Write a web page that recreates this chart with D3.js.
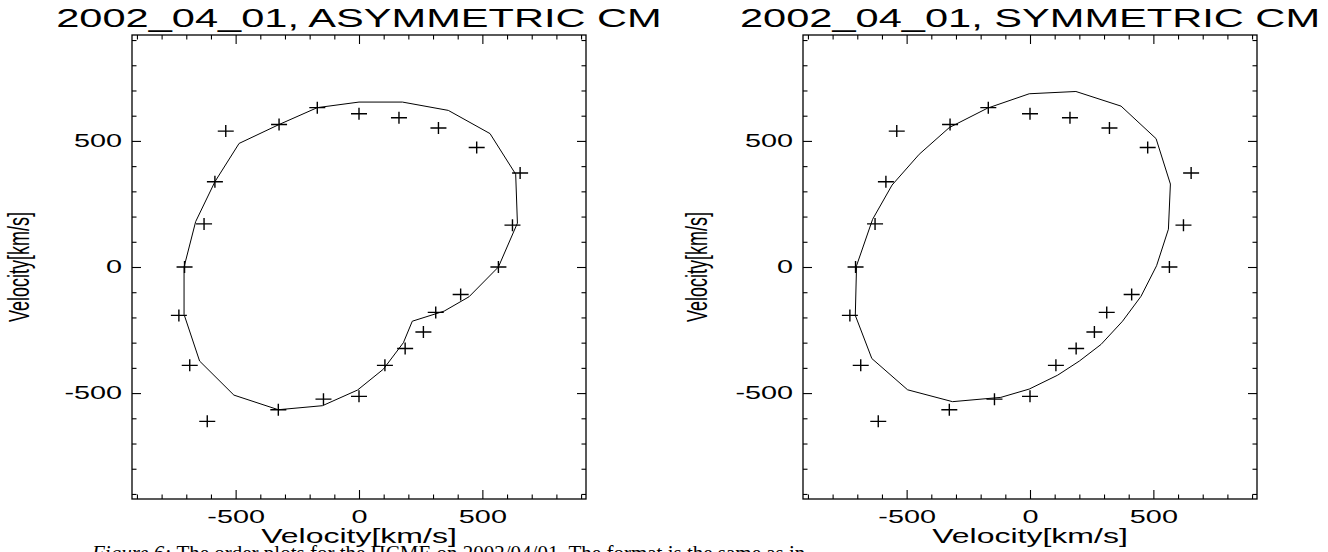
<!DOCTYPE html>
<html>
<head>
<meta charset="utf-8">
<script src="https://cdn.jsdelivr.net/npm/d3@7"></script>
<style>
  body { margin: 0; background: #fff; }
  svg { display: block; }
</style>
</head>
<body>
<svg width="1328" height="552"></svg>
<script>
var svg = d3.select("svg");

// observed points (same in both panels)
var obsVx = [0, 162, 322, 477, 653, 622, 565, 412, 311, 261, 187, 105, 0, -144, -327, -615, -686, -730, -707, -628, -584, -540, -324, -169];
var obsVy = [608, 592, 551, 474, 373, 166, 0, -109, -180, -258, -323, -390, -513, -524, -566, -612, -390, -192, 0, 171, 338, 539, 565, 632];

// fitted curve, asymmetric cone model
var asymVx = [0, 176, 362, 531, 635, 642, 565, 446, 345, 216, 180, 99, -6, -148, -327, -507, -646, -709, -709, -662, -584, -486, -324, -169];
var asymVy = [654, 654, 621, 529, 368, 174, 0, -118, -175, -215, -300, -405, -488, -550, -566, -508, -373, -188, 0, 180, 338, 490, 565, 632];

// fitted curve, symmetric cone model
var symVx = [-3, 186, 369, 511, 569, 561, 513, 450, 375, 288, 200, 112, -3, -118, -314, -496, -641, -708, -703, -638, -559, -449, -327, -172];
var symVy = [687, 696, 638, 509, 329, 150, 5, -116, -215, -307, -373, -429, -484, -517, -534, -487, -363, -192, 5, 189, 325, 447, 553, 630];

var panelTitles = ["2002_04_01, ASYMMETRIC CM", "2002_04_01, SYMMETRIC CM"];
var majorTicks = [-500, 0, 500];
var minorTicks = [-900, -800, -700, -600, -400, -300, -200, -100, 100, 200, 300, 400, 600, 700, 800, 900];
var axisRange = [-920, 920];
var axisTitle = "Velocity[km/s]";
var caption = "The order plots for the HCME on 2002/04/01. The format is the same as in";

var plotTop = 35;
var plotH = 464;
var plotW = 454;
var panelLeft = [132, 803];
var stretch = 1.6; // the figure is stretched sideways

var font = "'Liberation Sans', Arial, Helvetica, sans-serif";
var plainNum = function(d) { return String(d); };

drawPanel = function(k, curveX, curveY)
{
  var g = svg.append("g").attr("transform", "translate(" + panelLeft[k] + "," + plotTop + ")");

  var x = d3.scaleLinear().domain(axisRange).range([0, plotW]);
  var y = d3.scaleLinear().domain(axisRange).range([plotH, 0]);

  // ticks on all four sides, pointing in
  var sides = [
    [d3.axisBottom, "translate(0," + plotH + ")", x],
    [d3.axisTop, "translate(0,0)", x],
    [d3.axisLeft, "translate(0,0)", y],
    [d3.axisRight, "translate(" + plotW + ",0)", y]
  ];
  sides.forEach(function(s) {
    var scale = s[2];
    g.append("g").attr("transform", s[1])
      .call(s[0](scale).tickValues(minorTicks).tickSizeInner(-4.5).tickSizeOuter(0).tickFormat(""))
      .call(function(a) { a.select(".domain").remove(); });
    g.append("g").attr("transform", s[1])
      .call(s[0](scale).tickValues(majorTicks).tickSizeInner(-9).tickSizeOuter(0).tickFormat(""))
      .call(function(a) { a.select(".domain").remove(); });
  });
  g.selectAll(".tick line").attr("stroke", "#000").attr("stroke-width", 1.1);

  // tick labels, bottom and left
  var bx = g.append("g").attr("transform", "translate(0," + plotH + ")")
    .call(d3.axisBottom(x).tickValues(majorTicks).tickSize(0).tickPadding(11).tickFormat(plainNum));
  bx.select(".domain").remove();
  bx.selectAll("text").attr("transform", "scale(" + stretch + ",1)")
    .attr("font-family", font).attr("font-size", 18).attr("fill", "#000");

  var ly = g.append("g")
    .call(d3.axisLeft(y).tickValues(majorTicks).tickSize(0).tickPadding(10 / stretch).tickFormat(plainNum));
  ly.select(".domain").remove();
  ly.selectAll("text").attr("transform", "scale(" + stretch + ",1)")
    .attr("font-family", font).attr("font-size", 18).attr("fill", "#000");

  // frame
  g.append("rect").attr("width", plotW).attr("height", plotH)
    .attr("fill", "none").attr("stroke", "#000").attr("stroke-width", 1.3);

  // model curve
  var pts = d3.range(curveX.length).map(function(i) { return [curveX[i], curveY[i]]; });
  var line = d3.line().x(function(d) { return x(d[0]); }).y(function(d) { return y(d[1]); })
    .curve(d3.curveLinearClosed);
  g.append("path").datum(pts).attr("d", line)
    .attr("fill", "none").attr("stroke", "#000").attr("stroke-width", 1);

  // observed crosses
  for (var i = 0; i < obsVx.length; i++) {
    var cx = x(obsVx[i]), cy = y(obsVy[i]);
    g.append("path")
      .attr("d", "M" + (cx - 8) + "," + cy + "H" + (cx + 8) + "M" + cx + "," + (cy - 6) + "V" + (cy + 6))
      .attr("stroke", "#000").attr("stroke-width", 1.4).attr("fill", "none");
  }

  // titles
  g.append("text")
    .attr("transform", "translate(" + (plotW / 2) + ",-8) scale(" + stretch + ",1)")
    .attr("text-anchor", "middle").attr("font-family", font).attr("font-size", 26)
    .text(panelTitles[k]);

  g.append("text")
    .attr("transform", "translate(" + (plotW / 2) + "," + (plotH + 44) + ") scale(" + stretch + ",1)")
    .attr("text-anchor", "middle").attr("font-family", font).attr("font-size", 20)
    .text(axisTitle);

  g.append("text")
    .attr("transform", "translate(" + (k == 0 ? -103 : -96) + "," + y(0) + ") scale(" + stretch + ",1) rotate(-90)")
    .attr("text-anchor", "middle").attr("font-family", font).attr("font-size", 18)
    .text(axisTitle);
}

drawPanel(0, asymVx, asymVy);
drawPanel(1, symVx, symVy);

// figure caption, cut by the bottom edge
var cap = svg.append("text").attr("x", 92).attr("y", 560)
  .attr("font-family", "'Liberation Serif', 'DejaVu Serif', serif").attr("font-size", 21);
cap.append("tspan").attr("font-style", "italic").text("Figure 6: ");
cap.append("tspan").text(caption);
</script>
</body>
</html>
